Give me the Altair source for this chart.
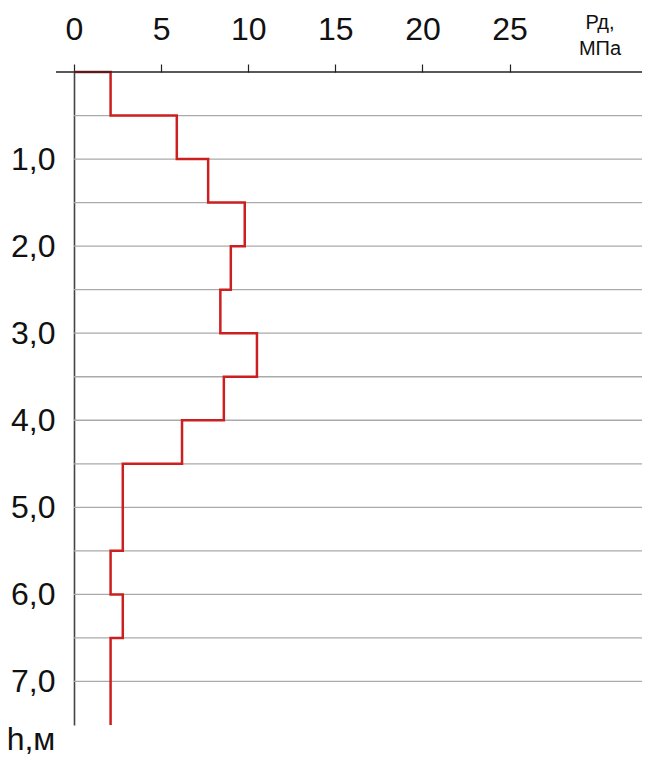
import altair as alt
import pandas as pd

# Layer boundaries (depth, m) and dynamic resistance Рд (MPa) per layer
tops = [0.0, 0.5, 1.0, 1.5, 2.0, 2.5, 3.0, 3.5, 4.0, 4.5, 5.5, 6.0, 6.5]
bottoms = [0.5, 1.0, 1.5, 2.0, 2.5, 3.0, 3.5, 4.0, 4.5, 5.5, 6.0, 6.5, 7.5]
values = [2.1, 5.9, 7.7, 9.8, 9.0, 8.4, 10.5, 8.6, 6.2, 2.8, 2.1, 2.8, 2.1]

x_ticks = [0, 5, 10, 15, 20, 25]
y_labels = [1, 2, 3, 4, 5, 6, 7]
grid_depths = [0.5, 1.0, 1.5, 2.0, 2.5, 3.0, 3.5, 4.0, 4.5, 5.0, 5.5, 6.0, 6.5, 7.0]

W, H = 568, 653
X_MAX = 32.6
Y_MAX = 7.5
FONT = "Liberation Sans"

# step path built from the layer table
rows = [{"x": 0.0, "h": 0.0, "o": 0}]
i = 1
for t, b, v in zip(tops, bottoms, values):
    rows.append({"x": v, "h": t, "o": i}); i += 1
    rows.append({"x": v, "h": b, "o": i}); i += 1
path = pd.DataFrame(rows)

xs = alt.Scale(domain=[0, X_MAX], nice=False, zero=False)
ys = alt.Scale(domain=[0, Y_MAX], reverse=True, nice=False, zero=False)

y_axis = alt.Axis(
    orient="left", values=y_labels, domain=True, domainColor="#444",
    domainWidth=1.6, ticks=False, grid=False,
    labelExpr="replace(format(datum.value, '.1f'), '.', ',')",
    labelFontSize=32, labelFont=FONT, labelColor="#111", labelPadding=19,
    labelFlush=False, title=None)

grid = alt.Chart(pd.DataFrame({"h": grid_depths})).mark_rule(
    color="#aaaaaa", strokeWidth=1.3
).encode(
    y=alt.Y("h:Q", scale=ys, axis=y_axis),
    x=alt.value(0), x2=alt.value(W)
)

line = alt.Chart(path).mark_line(color="#cc2020", strokeWidth=2.5).encode(
    x=alt.X("x:Q", scale=xs, axis=alt.Axis(
        orient="top", values=x_ticks, domain=False, grid=False,
        tickSize=8, tickColor="#222", tickWidth=1.2, labelFlush=False,
        labelFontSize=32, labelFont=FONT, labelColor="#111", labelPadding=18,
        title=None)),
    y=alt.Y("h:Q", scale=ys, axis=y_axis),
    order="o:Q"
)

xaxis_line = alt.Chart(pd.DataFrame({"a": [0]})).mark_rule(
    color="#222", strokeWidth=1.6
).encode(x=alt.value(-18), x2=alt.value(W), y=alt.value(0))

unit_x = alt.Chart(pd.DataFrame({"t": [["Рд,", "МПа"]]})).mark_text(
    fontSize=20, font=FONT, color="#111", align="center", baseline="middle",
    lineHeight=26
).encode(x=alt.value(526), y=alt.value(-49), text="t")

unit_y = alt.Chart(pd.DataFrame({"t": ["h,м"]})).mark_text(
    fontSize=32, font=FONT, color="#111", align="center", baseline="middle"
).encode(x=alt.value(-43), y=alt.value(668), text="t")

chart = alt.layer(grid, line, xaxis_line, unit_x, unit_y).properties(
    width=W, height=H,
    autosize=alt.AutoSizeParams(type="none"),
    padding={"left": 66, "top": 64, "right": 4, "bottom": 40},
    background="white"
).configure_view(stroke=None)

chart.save("out.html", embed_options={"renderer": "svg", "actions": False})
